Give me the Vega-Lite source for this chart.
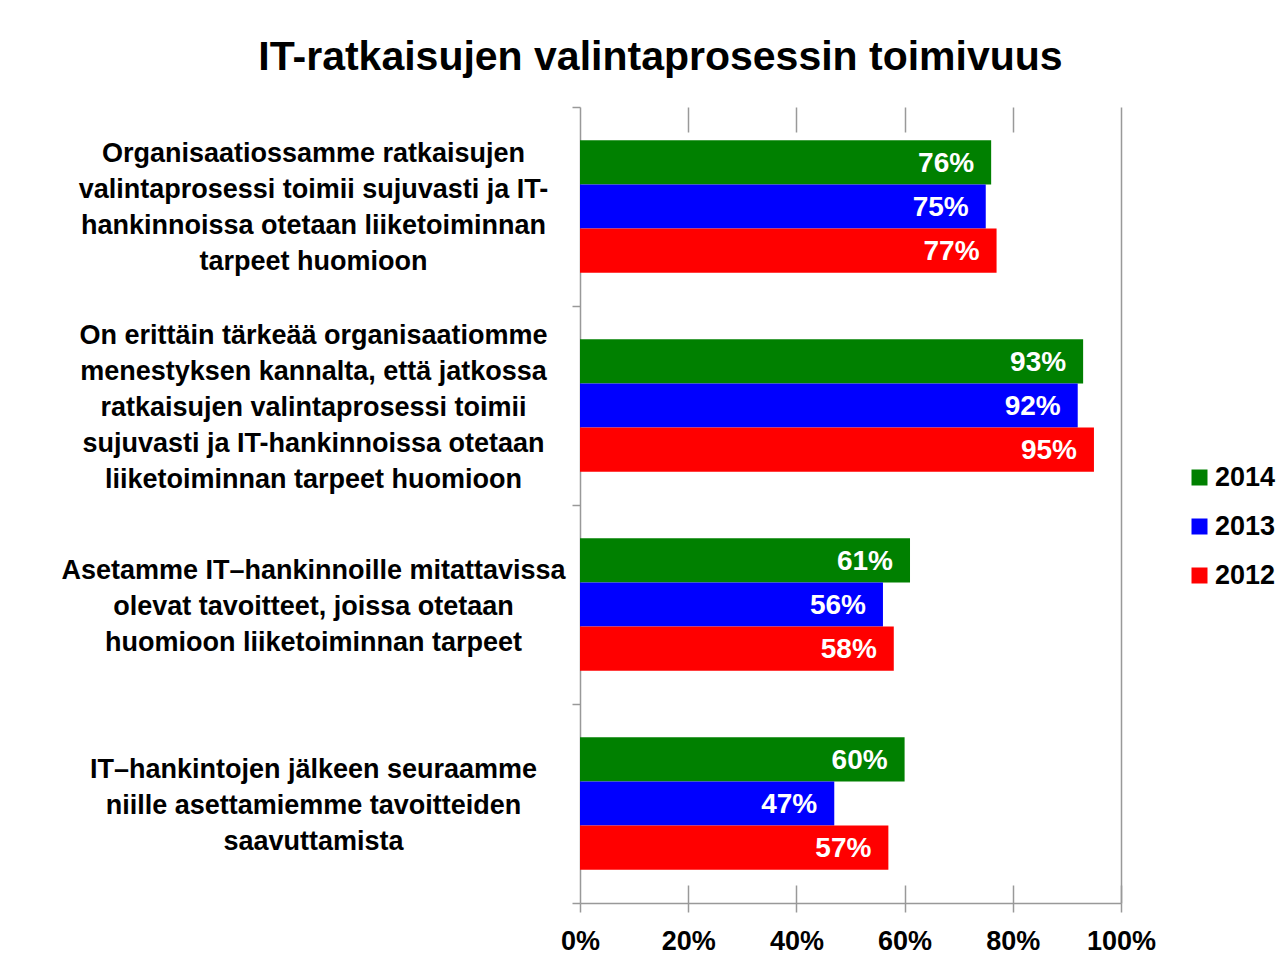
{
  "$schema": "https://vega.github.io/schema/vega-lite/v6.json",
  "width": 541,
  "height": 796,
  "autosize": {"type": "none"},
  "padding": {"left": 580, "top": 107, "right": 161, "bottom": 64},
  "background": "white",
  "title": {
    "text": "IT-ratkaisujen valintaprosessin toimivuus",
    "font": "Liberation Sans",
    "fontSize": 41,
    "fontWeight": "bold",
    "color": "black",
    "anchor": "middle",
    "frame": "group",
    "dx": -190,
    "dy": 53,
    "baseline": "alphabetic",
    "offset": 35
  },
  "data": {
    "values": [
      {"q": "Organisaatiossamme ratkaisujen|valintaprosessi toimii sujuvasti ja IT-|hankinnoissa otetaan liiketoiminnan|tarpeet huomioon", "year": "2014", "value": 0.76},
      {"q": "Organisaatiossamme ratkaisujen|valintaprosessi toimii sujuvasti ja IT-|hankinnoissa otetaan liiketoiminnan|tarpeet huomioon", "year": "2013", "value": 0.75},
      {"q": "Organisaatiossamme ratkaisujen|valintaprosessi toimii sujuvasti ja IT-|hankinnoissa otetaan liiketoiminnan|tarpeet huomioon", "year": "2012", "value": 0.77},
      {"q": "On erittäin tärkeää organisaatiomme|menestyksen kannalta, että jatkossa|ratkaisujen valintaprosessi toimii|sujuvasti ja IT-hankinnoissa otetaan|liiketoiminnan tarpeet huomioon", "year": "2014", "value": 0.93},
      {"q": "On erittäin tärkeää organisaatiomme|menestyksen kannalta, että jatkossa|ratkaisujen valintaprosessi toimii|sujuvasti ja IT-hankinnoissa otetaan|liiketoiminnan tarpeet huomioon", "year": "2013", "value": 0.92},
      {"q": "On erittäin tärkeää organisaatiomme|menestyksen kannalta, että jatkossa|ratkaisujen valintaprosessi toimii|sujuvasti ja IT-hankinnoissa otetaan|liiketoiminnan tarpeet huomioon", "year": "2012", "value": 0.95},
      {"q": "Asetamme IT–hankinnoille  mitattavissa|olevat tavoitteet, joissa otetaan|huomioon liiketoiminnan tarpeet", "year": "2014", "value": 0.61},
      {"q": "Asetamme IT–hankinnoille  mitattavissa|olevat tavoitteet, joissa otetaan|huomioon liiketoiminnan tarpeet", "year": "2013", "value": 0.56},
      {"q": "Asetamme IT–hankinnoille  mitattavissa|olevat tavoitteet, joissa otetaan|huomioon liiketoiminnan tarpeet", "year": "2012", "value": 0.58},
      {"q": "IT–hankintojen jälkeen seuraamme|niille asettamiemme tavoitteiden|saavuttamista", "year": "2014", "value": 0.60},
      {"q": "IT–hankintojen jälkeen seuraamme|niille asettamiemme tavoitteiden|saavuttamista", "year": "2013", "value": 0.47},
      {"q": "IT–hankintojen jälkeen seuraamme|niille asettamiemme tavoitteiden|saavuttamista", "year": "2012", "value": 0.57}
    ]
  },
  "encoding": {
    "y": {
      "field": "q",
      "type": "nominal",
      "sort": null,
      "title": null,
      "scale": {"paddingInner": 0, "paddingOuter": 0}
    },
    "yOffset": {
      "field": "year",
      "type": "nominal",
      "sort": ["2014", "2013", "2012"],
      "scale": {"paddingInner": 0, "paddingOuter": 0.75}
    },
    "x": {
      "field": "value",
      "type": "quantitative",
      "scale": {"domain": [0, 1], "nice": false, "zero": true}
    }
  },
  "layer": [
    {
      "mark": {"type": "bar", "cornerRadius": 0},
      "encoding": {
        "x": {
          "field": "value",
          "type": "quantitative",
          "title": null,
          "axis": {
            "orient": "bottom",
            "values": [0, 0.2, 0.4, 0.6, 0.8, 1],
            "format": ".0%",
            "grid": false,
            "domain": true,
            "domainColor": "#999999",
            "domainWidth": 1.5,
            "ticks": true,
            "tickSize": 9,
            "tickColor": "#999999",
            "tickWidth": 1.5,
            "labelFont": "Liberation Sans",
            "labelFontSize": 27,
            "labelFontWeight": "bold",
            "labelColor": "black",
            "labelPadding": 16,
            "labelFlush": false
          }
        },
        "y": {
          "field": "q",
          "type": "nominal",
          "sort": null,
          "title": null,
          "axis": {
            "orient": "left",
            "labelExpr": "length(split(datum.label, '|')) == 4 ? split(datum.label, '|') : ''",
            "tickBand": "extent",
            "domain": true,
            "domainColor": "#999999",
            "domainWidth": 1.5,
            "ticks": true,
            "tickSize": 8,
            "tickColor": "#999999",
            "tickWidth": 1.5,
            "grid": false,
            "labelFont": "Liberation Sans",
            "labelFontSize": 27,
            "labelFontWeight": "bold",
            "labelColor": "black",
            "labelAlign": "center",
            "labelBaseline": "middle",
            "labelLineHeight": 36,
            "labelPadding": 259,
            "labelLimit": 700,
            "labelOffset": -53
          }
        },
        "color": {
          "field": "year",
          "type": "nominal",
          "sort": ["2014", "2013", "2012"],
          "scale": {"domain": ["2014", "2013", "2012"], "range": ["#008000", "#0000FF", "#FF0000"]},
          "legend": {
            "title": null,
            "orient": "none",
            "legendX": 606,
            "legendY": 357,
            "symbolType": "square",
            "symbolSize": 256,
            "symbolStrokeWidth": 0,
            "labelFont": "Liberation Sans",
            "labelFontSize": 27,
            "labelFontWeight": "bold",
            "labelColor": "black",
            "labelOffset": 2,
            "rowPadding": 21,
            "padding": 0
          }
        }
      }
    },
    {
      "mark": {"type": "text", "align": "right", "baseline": "middle", "dx": -17, "dy": 1.5, "font": "Liberation Sans", "fontSize": 28, "fontWeight": "bold", "color": "white"},
      "encoding": {
        "x": {
          "field": "value",
          "type": "quantitative",
          "title": null,
          "axis": {
            "orient": "top",
            "values": [0.2, 0.4, 0.6, 0.8],
            "labels": false,
            "domain": false,
            "grid": false,
            "ticks": true,
            "tickSize": -25,
            "tickColor": "#999999",
            "tickWidth": 1.5
          }
        },
        "y": {
          "field": "q",
          "type": "nominal",
          "sort": null,
          "title": null,
          "axis": {
            "orient": "right",
            "labels": false,
            "ticks": false,
            "grid": false,
            "domain": true,
            "domainColor": "#999999",
            "domainWidth": 1.5
          }
        },
        "text": {"field": "value", "type": "quantitative", "format": ".0%"}
      }
    },
    {
      "mark": {"type": "text", "opacity": 0},
      "encoding": {
        "x": {
          "field": "value",
          "type": "quantitative",
          "title": null,
          "axis": {
            "orient": "bottom",
            "values": [0.2, 0.4, 0.6, 0.8, 1],
            "labels": false,
            "domain": false,
            "grid": false,
            "ticks": true,
            "tickSize": -18,
            "tickColor": "#999999",
            "tickWidth": 1.5
          }
        },
        "y": {
          "field": "q",
          "type": "nominal",
          "sort": null,
          "title": null,
          "axis": {
            "orient": "left",
            "labelExpr": "length(split(datum.label, '|')) == 3 ? split(datum.label, '|') : ''",
            "domain": false,
            "ticks": false,
            "grid": false,
            "labelFont": "Liberation Sans",
            "labelFontSize": 27,
            "labelFontWeight": "bold",
            "labelColor": "black",
            "labelAlign": "center",
            "labelBaseline": "middle",
            "labelLineHeight": 36,
            "labelPadding": 267,
            "labelLimit": 700,
            "labelOffset": -34
          }
        },
        "text": {"value": ""}
      }
    },
    {
      "mark": {"type": "text", "opacity": 0},
      "encoding": {
        "x": {
          "field": "value",
          "type": "quantitative",
          "title": null,
          "axis": null
        },
        "y": {
          "field": "q",
          "type": "nominal",
          "sort": null,
          "title": null,
          "axis": {
            "orient": "left",
            "labelExpr": "length(split(datum.label, '|')) == 5 ? split(datum.label, '|') : ''",
            "domain": false,
            "ticks": false,
            "grid": false,
            "labelFont": "Liberation Sans",
            "labelFontSize": 27,
            "labelFontWeight": "bold",
            "labelColor": "black",
            "labelAlign": "center",
            "labelBaseline": "middle",
            "labelLineHeight": 36,
            "labelPadding": 267,
            "labelLimit": 700,
            "labelOffset": -70
          }
        },
        "text": {"value": ""}
      }
    }
  ],
  "resolve": {"axis": {"x": "independent", "y": "independent"}},
  "config": {
    "view": {"stroke": null},
    "font": "Liberation Sans"
  }
}
